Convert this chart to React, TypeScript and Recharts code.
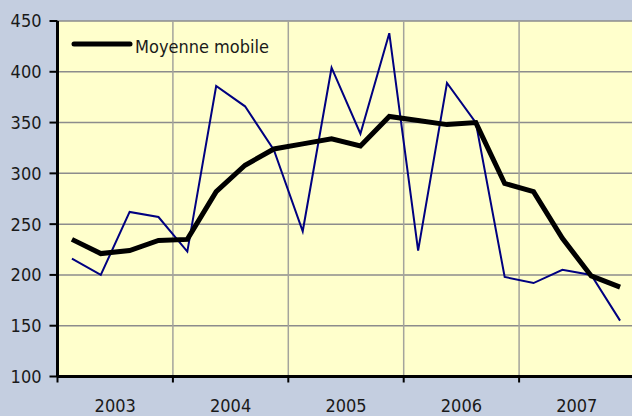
import React from "react";
import {
  CartesianGrid,
  Legend,
  Line,
  LineChart,
  ReferenceLine,
  XAxis,
  YAxis,
} from "recharts";

const years = [2003, 2004, 2005, 2006, 2007];
const quarters = ["T1", "T2", "T3", "T4"];

// série brute (trimestrielle)
const brut = [
  216, 200, 262, 257, 223, 386, 366, 323, 243, 404, 339, 438, 224, 389, 350,
  198, 192, 205, 200, 155,
];
// moyenne mobile
const moyenneMobile = [
  235, 221, 224, 234, 235, 282, 308, 324, 329, 334, 327, 356, 352, 348, 350,
  290, 282, 236, 199, 188,
];

const yTicks = [100, 150, 200, 250, 300, 350, 400, 450];

const data = years.flatMap((year, yi) =>
  quarters.map((q, qi) => {
    const i = yi * 4 + qi;
    return {
      pos: i + 0.5,
      label: `${year} ${q}`,
      brut: brut[i],
      moyenne: moyenneMobile[i],
    };
  })
);

const boundaries = [...years.map((_, i) => i * 4), years.length * 4];
const centres = years.map((_, i) => i * 4 + 2);
const xTicks = [...boundaries, ...centres].sort((a, b) => a - b);
const innerBoundaries = boundaries.slice(1, -1);

const FONT = '"DejaVu Sans Condensed", "DejaVu Sans", sans-serif';
const FONT_SIZE = 18;

function YearTick(props: any) {
  const { x, y, payload } = props;
  const v = payload.value;
  if (v % 4 === 0) {
    return <line x1={x} y1={y} x2={x} y2={y + 6} stroke="#000" strokeWidth={2} />;
  }
  return (
    <text x={x} y={y + 35} textAnchor="middle" fill="#1a1a1a" fontSize={FONT_SIZE} fontFamily={FONT}>
      {years[(v - 2) / 4]}
    </text>
  );
}

function LegendBox() {
  return (
    <svg width={220} height={30}>
      <line x1={4} y1={14} x2={60} y2={14} stroke="#000" strokeWidth={5} strokeLinecap="round" />
      <text x={65} y={23} fill="#1a1a1a" fontSize={FONT_SIZE} fontFamily={FONT}>
        Moyenne mobile
      </text>
    </svg>
  );
}

export default function App() {
  return (
    <div
      style={{
        position: "absolute",
        left: 0,
        top: 0,
        width: 632,
        height: 416,
        overflow: "hidden",
        background: "#c4cee0",
      }}
    >
      <LineChart
        width={640}
        height={416}
        data={data}
        margin={{ top: 21, right: 5.5, bottom: 0, left: 0 }}
      >
        <CartesianGrid vertical={false} fill="#ffffcc" stroke="#8c8c8c" strokeWidth={1.5} />
        {innerBoundaries.map((b) => (
          <ReferenceLine key={b} x={b} stroke="#a4a49c" strokeWidth={1.5} />
        ))}
        <XAxis
          dataKey="pos"
          type="number"
          domain={[0, years.length * 4]}
          ticks={xTicks}
          interval={0}
          tick={<YearTick />}
          tickLine={false}
          tickSize={0}
          tickMargin={0}
          height={39.5}
          axisLine={{ stroke: "#000", strokeWidth: 3 }}
        />
        <YAxis
          domain={[100, 450]}
          ticks={yTicks}
          interval={0}
          width={57.5}
          tickSize={8}
          tickMargin={8}
          tick={{ fill: "#1a1a1a", fontSize: FONT_SIZE, fontFamily: FONT }}
          tickLine={{ stroke: "#000", strokeWidth: 2 }}
          axisLine={{ stroke: "#000", strokeWidth: 3 }}
        />
        <Legend
          layout="horizontal"
          verticalAlign="middle"
          align="center"
          wrapperStyle={{ top: 30, left: 70, width: "auto" }}
          content={() => <LegendBox />}
        />
        <Line
          type="linear"
          dataKey="brut"
          stroke="#000080"
          strokeWidth={2}
          dot={false}
          legendType="none"
          isAnimationActive={false}
        />
        <Line
          type="linear"
          dataKey="moyenne"
          name="Moyenne mobile"
          stroke="#000"
          strokeWidth={5}
          dot={false}
          isAnimationActive={false}
        />
      </LineChart>
    </div>
  );
}
